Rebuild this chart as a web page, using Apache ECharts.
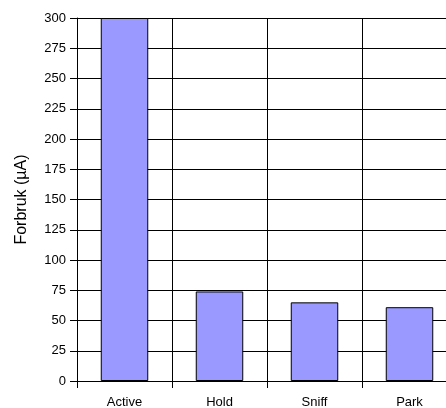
<!DOCTYPE html>
<html>
<head>
<meta charset="utf-8">
<script src="https://cdn.jsdelivr.net/npm/echarts@6/dist/echarts.min.js"></script>
<style>
  html, body { margin: 0; padding: 0; background: #fff; }
  #main { width: 446px; height: 408px; }
</style>
</head>
<body>
<div id="main"></div>
<script>
var categories = ['Active', 'Hold', 'Sniff', 'Park'];
var consumption = [300, 74, 65, 61];
var yTicks = [0, 300, 25]; // min, max, interval

var myChart = echarts.init(document.getElementById('main'));

var option = {
    animation: false,
    backgroundColor: '#fff',
    textStyle: { fontFamily: 'Liberation Sans, Arial, sans-serif' },
    grid: { left: 77, top: 18, width: 380, height: 363, outerBoundsMode: 'none', containLabel: false },
    xAxis: {
        type: 'category',
        data: categories,
        boundaryGap: true,
        axisLine: { lineStyle: { color: '#000', width: 1 } },
        axisTick: { show: true, length: 7, lineStyle: { color: '#000' } },
        axisLabel: { color: '#000', fontSize: 13, margin: 15 },
        splitLine: { show: true, lineStyle: { color: '#000', width: 1 } }
    },
    yAxis: {
        type: 'value',
        min: yTicks[0],
        max: yTicks[1],
        interval: yTicks[2],
        name: 'Forbruk (µA)',
        nameLocation: 'middle',
        nameGap: 47,
        nameTextStyle: { color: '#000', fontSize: 16 },
        axisLine: { show: true, lineStyle: { color: '#000', width: 1 } },
        axisTick: { show: true, length: 7, lineStyle: { color: '#000' } },
        axisLabel: { color: '#000', fontSize: 13, margin: 11 },
        splitLine: { show: true, lineStyle: { color: '#000', width: 1 } }
    },
    series: [
        {
            name: 'Forbruk',
            type: 'bar',
            data: consumption,
            barWidth: '50%',
            itemStyle: { color: '#9999ff', borderColor: '#000', borderWidth: 1 }
        }
    ]
};

myChart.setOption(option);
</script>
</body>
</html>
